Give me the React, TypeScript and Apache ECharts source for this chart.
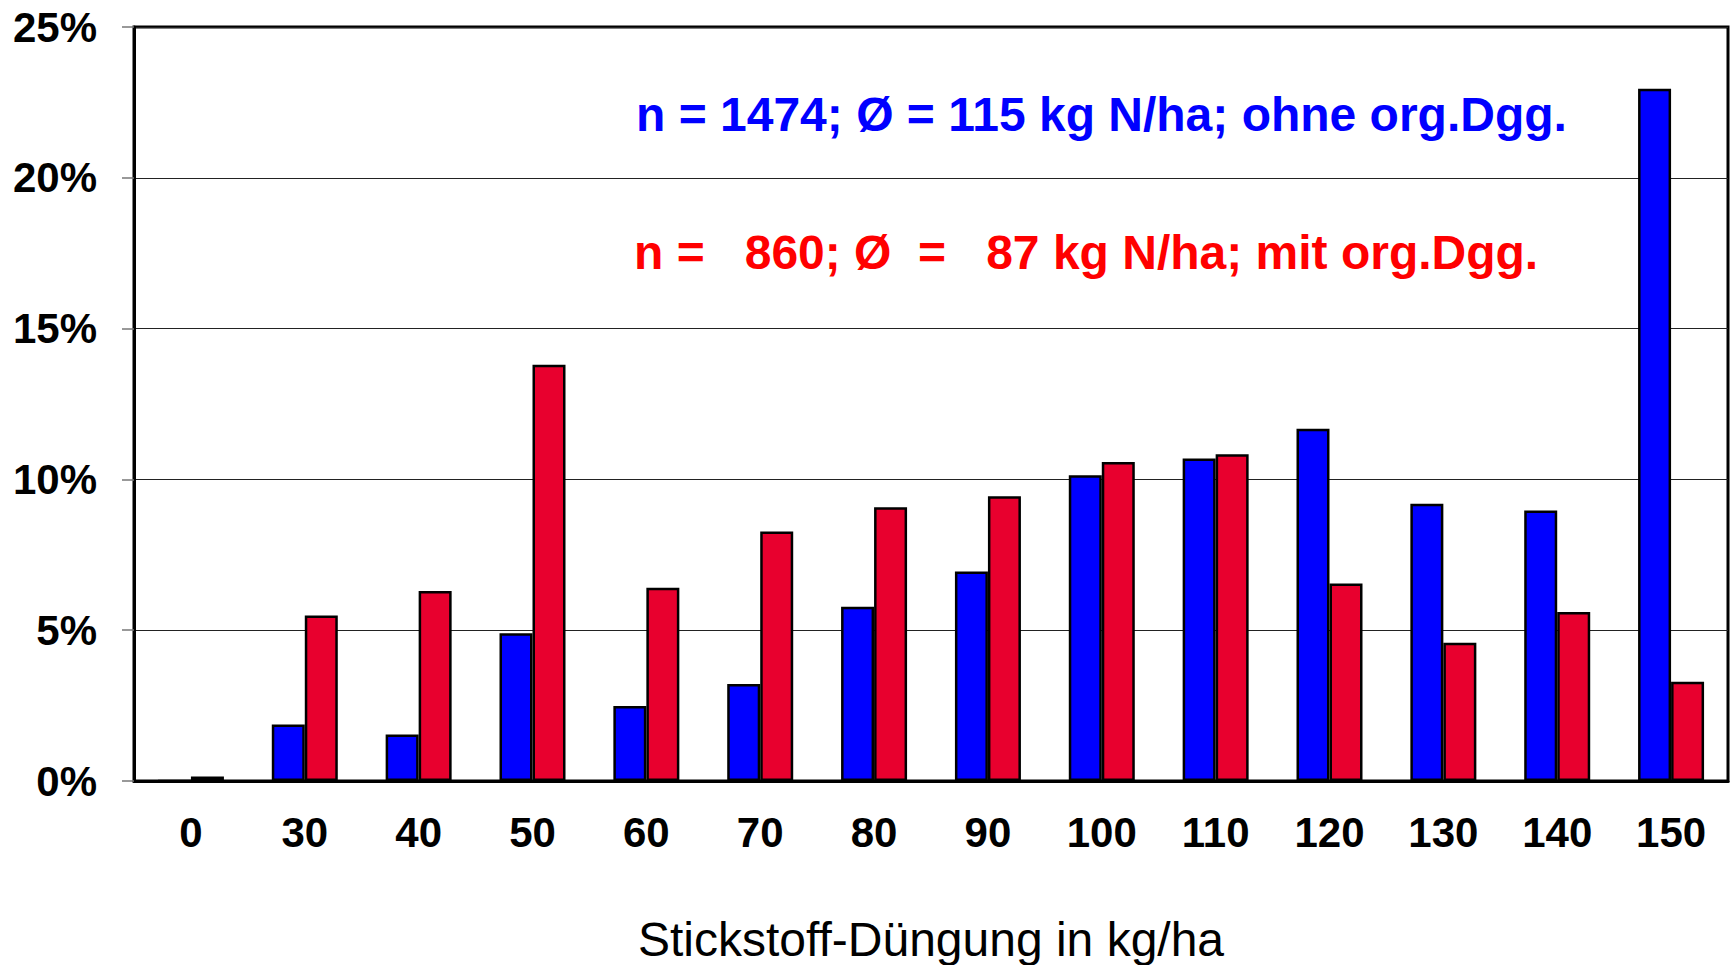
import React, { useEffect, useRef } from "react";
import * as echarts from "echarts";

const categories = ["0", "30", "40", "50", "60", "70", "80", "90", "100", "110", "120", "130", "140", "150"];
const ohneOrgDgg = [0, 1.87, 1.54, 4.9, 2.49, 3.22, 5.78, 6.95, 10.14, 10.69, 11.68, 9.19, 8.97, 22.95];
const mitOrgDgg = [0.15, 5.49, 6.3, 13.8, 6.41, 8.27, 9.08, 9.44, 10.58, 10.83, 6.55, 4.58, 5.6, 3.29];
const yTicks = [0, 5, 10, 15, 20, 25];
const noteBlue = "n = 1474; Ø = 115 kg N/ha; ohne org.Dgg.";
const noteRed = "n =   860; Ø  =   87 kg N/ha; mit org.Dgg.";
const xTitle = "Stickstoff-Düngung in kg/ha";

const FONT = '"Liberation Sans", Arial, Helvetica, sans-serif';

export default function App() {
  const ref = useRef<HTMLDivElement>(null);
  useEffect(() => {
    if (!ref.current) return;
    const chart = echarts.init(ref.current, undefined, { renderer: "svg" });
    chart.setOption({
      animation: false,
      backgroundColor: "#ffffff",
      textStyle: { fontFamily: FONT },
      grid: {
        left: 134,
        right: 6,
        top: 27,
        bottom: 184,
        containLabel: false,
        outerBoundsMode: "none",
        show: true,
        borderColor: "#000",
        borderWidth: 3,
        backgroundColor: "transparent",
      },
      xAxis: {
        type: "category",
        data: categories,
        axisLine: { show: true, lineStyle: { color: "#000", width: 3 } },
        axisTick: { show: false },
        axisLabel: {
          color: "#000",
          fontWeight: "bold",
          fontSize: 42,
          fontFamily: FONT,
          margin: 30,
          interval: 0,
        },
        name: xTitle,
        nameLocation: "middle",
        nameGap: 134,
        nameTextStyle: { color: "#000", fontSize: 48, fontFamily: FONT, fontWeight: "normal" },
      },
      yAxis: {
        type: "value",
        min: yTicks[0],
        max: yTicks[yTicks.length - 1],
        interval: 5,
        axisLine: { show: true, lineStyle: { color: "#000", width: 3 } },
        axisTick: { show: true, length: 12, lineStyle: { color: "#777", width: 1.5 } },
        axisLabel: {
          color: "#000",
          fontWeight: "bold",
          fontSize: 42,
          fontFamily: FONT,
          margin: 37,
          formatter: "{value}%",
        },
        splitLine: { show: true, lineStyle: { color: "#222", width: 1 } },
      },
      series: [
        {
          name: "ohne org.Dgg.",
          type: "bar",
          data: ohneOrgDgg,
          barWidth: 33,
          barGap: "0%",
          itemStyle: { color: "#0000FF", borderColor: "#000", borderWidth: 2.5 },
        },
        {
          name: "mit org.Dgg.",
          type: "bar",
          data: mitOrgDgg,
          barWidth: 33,
          barGap: "0%",
          itemStyle: { color: "#E8002E", borderColor: "#000", borderWidth: 2.5 },
        },
      ],
      graphic: [
        {
          type: "text",
          left: 636,
          top: 90,
          style: {
            text: noteBlue,
            fill: "#0000FF",
            font: `bold 48px ${FONT}`,
          },
        },
        {
          type: "text",
          left: 634,
          top: 228,
          style: {
            text: noteRed,
            fill: "#FF0000",
            font: `bold 48px ${FONT}`,
          },
        },
      ],
    });
    return () => chart.dispose();
  }, []);
  return (
    <div
      ref={ref}
      style={{ position: "fixed", left: 0, top: 0, width: 1734, height: 965, background: "#fff" }}
    />
  );
}
